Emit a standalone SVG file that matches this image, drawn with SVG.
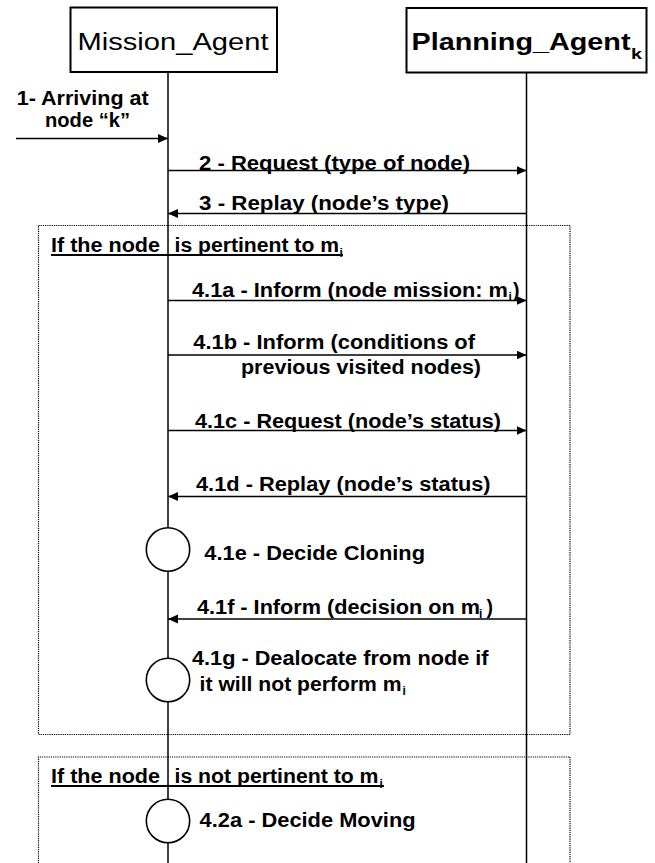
<svg xmlns="http://www.w3.org/2000/svg" width="655" height="863" viewBox="0 0 655 863">
<style>
.box{fill:#fff;stroke:#000;stroke-width:2}
.life{stroke:#000;stroke-width:1.5;fill:none}
.msg{stroke:#000;stroke-width:1.5;fill:none;marker-end:url(#ah)}
.frame{fill:none;stroke:#000;stroke-width:1.2;stroke-dasharray:1.2 1}
.act{fill:#fff;stroke:#000;stroke-width:1.6}
.t{font-family:"Liberation Sans",Arial,sans-serif;font-weight:bold;font-size:19.5px;fill:#000}
.lbl{font-family:"Liberation Sans",Arial,sans-serif;font-weight:bold;font-size:20px;fill:#000}
.sub{font-family:"Liberation Sans",Arial,sans-serif;font-weight:bold;font-size:12px;fill:#000}
.ul{stroke:#000;stroke-width:1.8}
</style>
<defs>
<marker id="ah" markerUnits="userSpaceOnUse" markerWidth="12" markerHeight="10" refX="10" refY="4.5" orient="auto">
<path d="M0,0 L10,4.5 L0,9 Z" fill="#000"/>
</marker>
</defs>
<rect width="655" height="863" fill="#fff"/>

<g id="frames">
<rect id="frame_pertinent" class="frame" x="38.5" y="225.5" width="531.5" height="509"/>
<path id="frame_not_pertinent" class="frame" d="M38.5,870 V757 H570 V870"/>
</g>

<g id="lifelines">
<line class="life" x1="168" y1="72" x2="168" y2="863"/>
<line class="life" x1="526.5" y1="72.5" x2="526.5" y2="863"/>
</g>

<g id="mission_agent">
<rect class="box" x="70.5" y="7.5" width="206.5" height="64.5"/>
<text x="77.5" y="50" font-family="'Liberation Sans',Arial,sans-serif" font-size="23" textLength="191" lengthAdjust="spacingAndGlyphs">Mission_Agent</text>
</g>

<g id="planning_agent">
<rect class="box" x="406.5" y="8" width="240" height="64.5"/>
<text x="411.5" y="50" font-family="'Liberation Sans',Arial,sans-serif" font-weight="bold" font-size="24.5" textLength="219" lengthAdjust="spacingAndGlyphs">Planning_Agent</text>
<text x="631" y="58.5" font-family="'Liberation Sans',Arial,sans-serif" font-weight="bold" font-size="15" textLength="11" lengthAdjust="spacingAndGlyphs">k</text>
</g>

<g id="connectors">
<line class="msg" x1="16" y1="138.5" x2="168" y2="138.5"/>
<line class="msg" x1="168" y1="170.5" x2="526.5" y2="170.5"/>
<line class="msg" x1="526.5" y1="213.5" x2="168" y2="213.5"/>
<line class="msg" x1="168" y1="300.5" x2="526.5" y2="300.5"/>
<line class="msg" x1="168" y1="355" x2="526.5" y2="355"/>
<line class="msg" x1="168" y1="430.5" x2="526.5" y2="430.5"/>
<line class="msg" x1="526.5" y1="496.5" x2="168" y2="496.5"/>
<line class="msg" x1="526.5" y1="619" x2="168" y2="619"/>
</g>

<g id="activities">
<circle id="act_41e" class="act" cx="168" cy="549.5" r="21.7"/>
<circle id="act_41g" class="act" cx="168" cy="680" r="21.7"/>
<circle id="act_42a" class="act" cx="168" cy="821" r="21.7"/>
</g>

<g id="labels">
<text class="t" x="16.7" y="104.5" textLength="132" lengthAdjust="spacingAndGlyphs">1- Arriving at</text>
<text class="t" x="45" y="126.7" textLength="85" lengthAdjust="spacingAndGlyphs">node “k”</text>
<text class="t" x="199" y="169.5" textLength="271" lengthAdjust="spacingAndGlyphs">2 - Request (type of node)</text>
<text class="t" x="199" y="209.5" textLength="250" lengthAdjust="spacingAndGlyphs">3 - Replay (node’s type)</text>

<g id="frame1_label">
<text class="lbl" x="51" y="252.3" textLength="109" lengthAdjust="spacingAndGlyphs">If the node</text>
<text class="lbl" x="174.5" y="252.3" textLength="164.5" lengthAdjust="spacingAndGlyphs">is pertinent to m</text>
<text class="sub" x="339.5" y="257">i</text>
<line class="ul" x1="51" y1="255" x2="343" y2="255"/>
</g>

<text class="t" x="192" y="296.5" textLength="316" lengthAdjust="spacingAndGlyphs">4.1a - Inform (node mission: m</text>
<text class="sub" x="508.5" y="301">i</text>
<text class="t" x="513" y="296.5">)</text>

<text class="t" x="193.3" y="348.5" textLength="281.7" lengthAdjust="spacingAndGlyphs">4.1b - Inform (conditions of</text>
<text class="t" x="241" y="374" textLength="240" lengthAdjust="spacingAndGlyphs">previous visited nodes)</text>
<text class="t" x="195" y="427.5" textLength="306" lengthAdjust="spacingAndGlyphs">4.1c - Request (node’s status)</text>
<text class="t" x="196" y="491" textLength="294.6" lengthAdjust="spacingAndGlyphs">4.1d - Replay (node’s status)</text>
<text class="t" x="204.3" y="560" textLength="220.7" lengthAdjust="spacingAndGlyphs">4.1e - Decide Cloning</text>

<text class="t" x="197" y="614" textLength="283" lengthAdjust="spacingAndGlyphs">4.1f - Inform (decision on m</text>
<text class="sub" x="479" y="618">i</text>
<text class="t" x="486.5" y="614">)</text>

<text class="t" x="192" y="664.5" textLength="296.5" lengthAdjust="spacingAndGlyphs">4.1g - Dealocate from node if</text>
<text class="t" x="199.6" y="690.5" textLength="202" lengthAdjust="spacingAndGlyphs">it will not perform m</text>
<text class="sub" x="402.5" y="695">i</text>

<g id="frame2_label">
<text class="lbl" x="51" y="783" textLength="109" lengthAdjust="spacingAndGlyphs">If the node</text>
<text class="lbl" x="174.5" y="783" textLength="204" lengthAdjust="spacingAndGlyphs">is not pertinent to m</text>
<text class="sub" x="379.5" y="787.5">i</text>
<line class="ul" x1="51" y1="786" x2="384" y2="786"/>
</g>

<text class="t" x="199.6" y="827" textLength="216" lengthAdjust="spacingAndGlyphs">4.2a - Decide Moving</text>
</g>
</svg>
